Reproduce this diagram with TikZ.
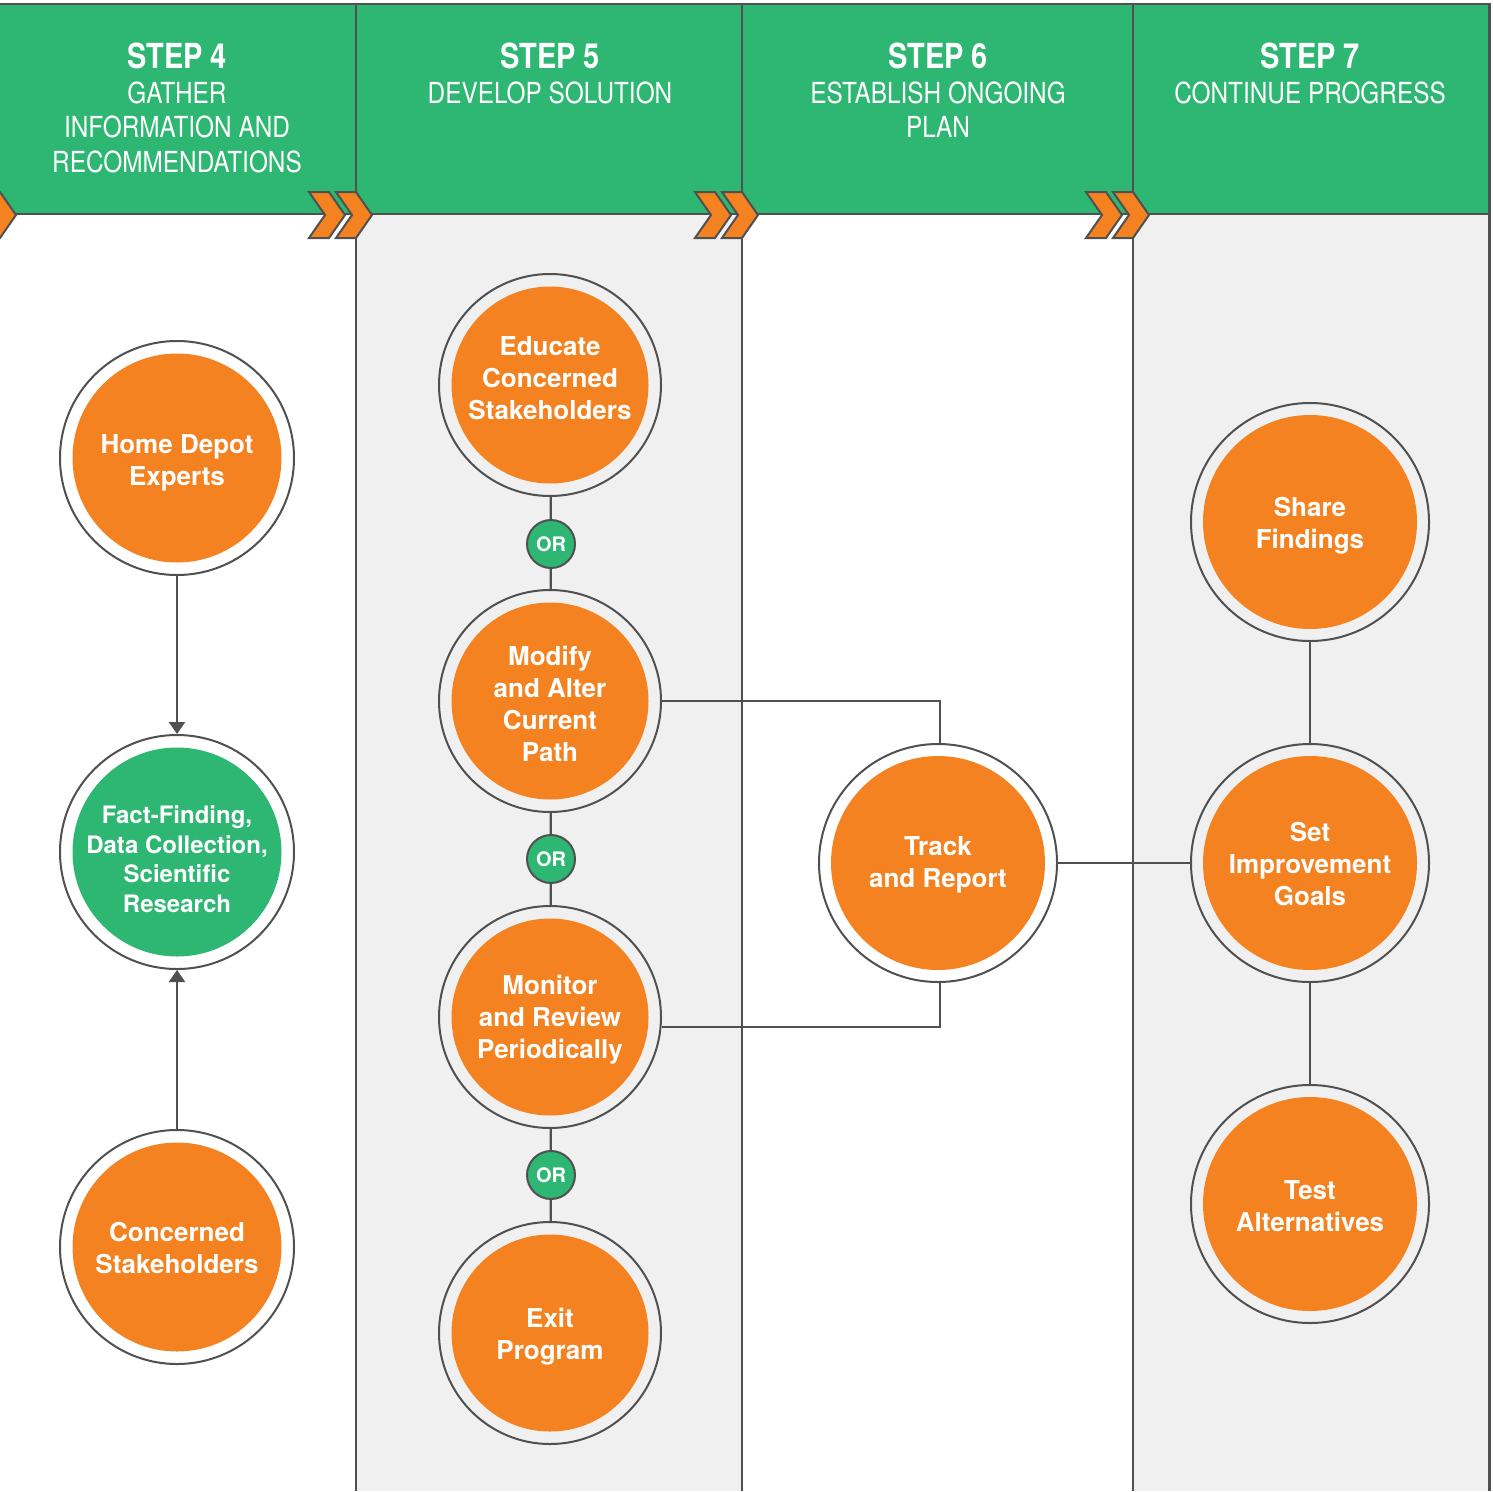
\documentclass[tikz,border=0pt]{standalone}
\usepackage{fontspec}
\usetikzlibrary{arrows.meta}
\newfontfamily\headfont[FakeStretch=0.84]{TeX Gyre Heros}
\newfontfamily\bubblefont{TeX Gyre Heros}
\definecolor{leaf}{RGB}{46,182,115}
\definecolor{tangerine}{RGB}{244,130,32}
\definecolor{pale}{RGB}{240,240,240}
\definecolor{ink}{RGB}{80,80,80}

\begin{document}
\begin{tikzpicture}[x=1pt,y=-1pt,
  rule/.style={draw=ink,line width=2pt},
  ring/.style={circle,draw=ink,line width=2pt,inner sep=0pt},
  core/.style={circle,inner sep=0pt,text=white,align=center,
    font=\bubblefont\bfseries\fontsize{26}{32}\selectfont},
  smallcore/.style={core,font=\bubblefont\bfseries\fontsize{24}{29.5}\selectfont},
  ornode/.style={circle,fill=leaf,draw=ink,line width=2pt,minimum size=48pt,
    inner sep=0pt,text=white,font=\bubblefont\bfseries\fontsize{20}{24}\selectfont},
  link/.style={draw=ink,line width=2.2pt},
  arrowlink/.style={link,-{Triangle[width=16pt,length=12pt]}},
  chev/.style={fill=tangerine,draw=ink,line width=2pt,line join=miter},
  stepno/.style={anchor=base,text=white,inner sep=0pt,
    font=\headfont\bfseries\fontsize{34.5}{40}\selectfont},
  steptxt/.style={anchor=base,text=white,inner sep=0pt,
    font=\headfont\fontsize{29}{34}\selectfont}]

\useasboundingbox (0,0) rectangle (1493,1491);

% column backgrounds and header band
\fill[pale] (356,214) rectangle (742,1491);
\fill[pale] (1133,214) rectangle (1489,1491);
\fill[leaf] (0,4) rectangle (1489,214);

% frame and column rules
\draw[rule] (0,4) -- (1489,4);
\draw[rule] (0,214) -- (1489,214);
\foreach \cx in {356,742,1133} \draw[rule] (\cx,4) -- (\cx,1491);
\draw[draw=ink,line width=3pt] (1489,3) -- (1489,1491);

% double chevrons on the header edge
\foreach \d in {0,386,777}{
  \draw[chev] ({309+\d},192) -- ({329+\d},192) -- ({345+\d},215) -- ({329+\d},238)
     -- ({309+\d},238) -- ({325+\d},215) -- cycle;
  \draw[chev] ({336+\d},192) -- ({356+\d},192) -- ({372+\d},215) -- ({356+\d},238)
     -- ({336+\d},238) -- ({352+\d},215) -- cycle;
}
\draw[chev] (-20,192) -- (0,192) -- (16,215) -- (0,238) -- (-20,238) -- (-4,215) -- cycle;

% header titles
\node[stepno] (h4) at (177,68) {STEP 4};
\node[steptxt] (h4a) at (177,103) {GATHER};
\node[steptxt] (h4b) at (177,137) {INFORMATION AND};
\node[steptxt] (h4c) at (177,172) {RECOMMENDATIONS};
\node[stepno] (h5) at (550,68) {STEP 5};
\node[steptxt] (h5a) at (550,103) {DEVELOP SOLUTION};
\node[stepno] (h6) at (938,68) {STEP 6};
\node[steptxt] (h6a) at (938,103) {ESTABLISH ONGOING};
\node[steptxt] (h6b) at (938,137) {PLAN};
\node[stepno] (h7) at (1310,68) {STEP 7};
\node[steptxt] (h7a) at (1310,103) {CONTINUE PROGRESS};

% step 4 column
\node[ring,minimum size=234pt] (hd) at (177,458) {};
\node[core,fill=tangerine,minimum size=209pt] (hdc) at (hd) {};
\node[core,yshift=-5pt] at (hd) {Home Depot\\Experts};
\node[ring,minimum size=234pt] (ff) at (177,852) {};
\node[smallcore,fill=leaf,minimum size=209pt] (ffc) at (ff) {};
\node[smallcore,yshift=-7pt] at (ff) {Fact-Finding,\\Data Collection,\\Scientific\\Research};
\node[ring,minimum size=234pt] (cs) at (177,1247) {};
\node[core,fill=tangerine,minimum size=209pt] (csc) at (cs) {};
\node[core,yshift=-1pt] at (cs) {Concerned\\Stakeholders};

% step 5 column
\node[ring,minimum size=222pt] (edu) at (550,385) {};
\node[core,fill=tangerine,minimum size=197pt] (educ) at (edu) {};
\node[core,yshift=7pt] at (edu) {Educate\\Concerned\\Stakeholders};
\node[ring,minimum size=222pt] (mod) at (550,701) {};
\node[core,fill=tangerine,minimum size=197pt] (modc) at (mod) {};
\node[core,yshift=-3pt] at (mod) {Modify\\and Alter\\Current\\Path};
\node[ring,minimum size=222pt] (mon) at (550,1017) {};
\node[core,fill=tangerine,minimum size=197pt] (monc) at (mon) {};
\node[core,yshift=-3pt] at (mon) {Monitor\\and Review\\Periodically};
\node[ring,minimum size=222pt] (ex) at (550,1333) {};
\node[core,fill=tangerine,minimum size=197pt] (exc) at (ex) {};
\node[core,yshift=-4pt] at (ex) {Exit\\Program};
\node[ornode] (or1) at (551,544) {OR};
\node[ornode] (or2) at (551,859) {OR};
\node[ornode] (or3) at (551,1175) {OR};

% step 6 column
\node[ring,minimum size=238pt] (tr) at (938,863) {};
\node[core,fill=tangerine,minimum size=214pt] (trc) at (tr) {};
\node[core,yshift=-2pt] at (tr) {Track\\and Report};

% step 7 column
\node[ring,minimum size=238pt] (sh) at (1310,522) {};
\node[core,fill=tangerine,minimum size=214pt] (shc) at (sh) {};
\node[core,yshift=-4pt] at (sh) {Share\\Findings};
\node[ring,minimum size=238pt] (set) at (1310,863) {};
\node[core,fill=tangerine,minimum size=214pt] (setc) at (set) {};
\node[core,yshift=-1pt] at (set) {Set\\Improvement\\Goals};
\node[ring,minimum size=238pt] (ta) at (1310,1204) {};
\node[core,fill=tangerine,minimum size=214pt] (tac) at (ta) {};
\node[core,yshift=-2pt] at (ta) {Test\\Alternatives};

% connectors
\draw[arrowlink] (hd) -- (ff);
\draw[arrowlink] (cs) -- (ff);
\draw[link] (edu) -- (or1);
\draw[link] (or1) -- (mod);
\draw[link] (mod) -- (or2);
\draw[link] (or2) -- (mon);
\draw[link] (mon) -- (or3);
\draw[link] (or3) -- (ex);
\draw[link] (mod.east) -| ([xshift=2pt]tr.north);
\draw[link] ([yshift=-10pt]mon.east) -| ([xshift=2pt]tr.south);
\draw[link] (tr) -- (set);
\draw[link] (sh) -- (set);
\draw[link] (set) -- (ta);

\end{tikzpicture}
\end{document}
